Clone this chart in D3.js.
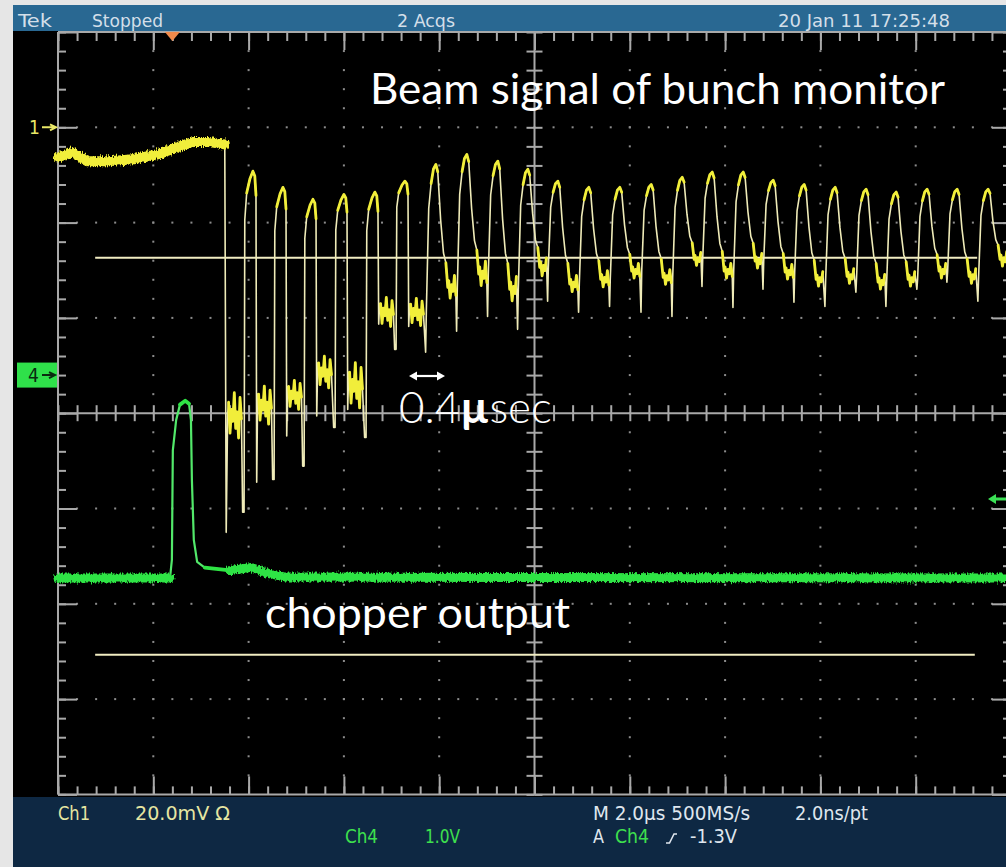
<!DOCTYPE html>
<html><head><meta charset="utf-8">
<script src="https://cdn.jsdelivr.net/npm/d3@7/dist/d3.min.js"></script>
<style>
html,body{margin:0;padding:0;background:#e6e6e6;overflow:hidden;}
svg{display:block}
</style></head>
<body>
<svg id="scope" width="1006" height="867"></svg>
<script>
// ---------------- data ----------------
const timebase = 2.0;            // µs / div
const hDivs = 10, vDivs = 8;
const ch1PerDiv = 20;            // mV / div
const ch1Offset = 3;             // ground marker, divs above centre
const ch4PerDiv = 1.0;           // V / div
const ch4Offset = 0.4;           // divs above centre
const triggerLevel = -1.3;       // V (Ch4)
const triggerTime = 2.39;        // µs

// Ch1 (beam signal) before the beam arrives, mV
const ch1PreT = [0, 0.29, 0.61, 1.09, 1.57, 2.08, 2.50, 2.83, 3.19, 3.50];
const ch1PreV = [-6.3, -5.2, -7.1, -7.1, -6.7, -5.7, -4.2, -3.1, -3.1, -3.6];
const ch1DropT = 3.53, ch1DropLow = -85.0, ch1FirstTrough = -60.2, ch1FirstSpread = 5.0;

// Ch1 bunch pulses
const pulseT      = [4.09,4.72,5.35,6.00,6.65,7.28,7.93,8.58,9.23,9.86,10.49,11.14,11.79,12.45,13.10,13.73,14.38,15.01,15.66,16.31,16.96,17.59,18.24,18.87,19.52];
const pulsePeak   = [-9.2,-12.6,-15.1,-14.1,-13.6,-11.3,-7.8,-5.7,-7.1,-8.8,-11.3,-12.6,-12.6,-12.0,-10.5,-9.4,-9.4,-11.1,-12.0,-12.6,-13.0,-13.6,-13.0,-13.0,-13.0];
const pulsePreLow = [-80.8,-73.9,-71.1,-63.0,-65.1,-46.6,-47.2,-42.8,-39.7,-42.4,-36.5,-38.8,-37.6,-38.8,-39.7,-33.4,-37.8,-34.0,-36.7,-37.6,-34.6,-37.6,-34.0,-32.5,-36.5];
const pulseFallLow= [-74.5,-64.8,-60.6,-59.2,-41.3,-41.8,null,null,null,null,null,null,null,null,null,null,null,null,null,null,null,null,null,null,null];
const pulseTrough = [-58.1,-56.0,-51.2,-53.9,-38.6,-38.6,-33.6,-30.8,-34.0,-29.4,-32.9,-31.9,-30.2,-31.5,-27.7,-30.2,-28.1,-30.4,-31.9,-31.3,-32.5,-31.9,-30.2,-31.3,-27.7];
const pulseSpread = [4.2,3.2,3.5,5.0,3.2,3.0,2.8,3.0,3.0,2.2,2.0,2.0,1.8,1.8,1.6,1.8,1.8,1.8,1.8,1.8,1.8,1.8,1.8,1.8,1.8];

// Ch4 (chopper output), V
const ch4T = [0, 2.35, 2.39, 2.41, 2.48, 2.56, 2.67, 2.75, 2.79, 2.81, 2.85, 2.92, 3.08, 3.61, 4.03, 4.34, 4.76, 20];
const ch4V = [-2.13,-2.13,-1.94,-0.79,-0.47,-0.31,-0.27,-0.30,-0.47,-1.10,-1.73,-1.96,-2.02,-2.05,-2.02,-2.07,-2.12,-2.13];

// horizontal reference levels (Ch1 scale, mV)
const refLevels = [-27.4, -110.7];
const refStart  = [0.78, 0.78];
const refEnd    = [19.29, 19.24];

const headerLabels = ["Tek", "Stopped", "2 Acqs", "20 Jan 11 17:25:48"];
const footerRow1 = ["Ch1", "20.0mV  Ω", "M 2.0µs 500MS/s", "2.0ns/pt"];
const footerRow2 = ["Ch4", "1.0V", "A", "Ch4", "-1.3V"];
const annotations = ["Beam signal of bunch monitor", "chopper output"];

// ---------------- layout ----------------
const X0 = 58, Y0 = 32, DIV = 95.3;
const W = DIV * hDivs, H = DIV * vDivs;
const x = d3.scaleLinear().domain([0, timebase * hDivs]).range([X0, X0 + W]);
const yDiv = d3.scaleLinear().domain([-vDivs/2, vDivs/2]).range([Y0 + H, Y0]);
const y1 = d3.scaleLinear().domain([(-vDivs/2 - ch1Offset) * ch1PerDiv, (vDivs/2 - ch1Offset) * ch1PerDiv]).range([Y0 + H, Y0]);
const y4 = d3.scaleLinear().domain([(-vDivs/2 - ch4Offset) * ch4PerDiv, (vDivs/2 - ch4Offset) * ch4PerDiv]).range([Y0 + H, Y0]);

const GR = '#a9a9a9', DOT = '#8c8c8c';
const YEL = '#f1ee3a', YEL_THIN = '#efebb8', GRN = '#2fe445', GRN_THIN = '#52e86a';
const NARROW = '"Liberation Sans Narrow","DejaVu Sans Condensed","Arial Narrow","Liberation Sans",sans-serif';
const HUMAN = 'Lato,"Open Sans","Noto Sans",sans-serif';

const svg = d3.select('#scope');
const defs = svg.append('defs');
const fz = defs.append('filter').attr('id', 'fuzz').attr('filterUnits', 'userSpaceOnUse')
  .attr('x', 0).attr('y', 0).attr('width', 1006).attr('height', 867);
fz.append('feTurbulence').attr('type', 'fractalNoise').attr('baseFrequency', '0.8 0.25')
  .attr('numOctaves', 2).attr('seed', 5).attr('result', 'n');
fz.append('feDisplacementMap').attr('in', 'SourceGraphic').attr('in2', 'n').attr('scale', 6)
  .attr('xChannelSelector', 'R').attr('yChannelSelector', 'G');

// frame
svg.append('rect').attr('x', 13).attr('y', 5).attr('width', 993).attr('height', 862).attr('fill', '#000');
svg.append('rect').attr('x', 13).attr('y', 5).attr('width', 993).attr('height', 26).attr('fill', '#296892');
svg.append('rect').attr('x', 13).attr('y', 797).attr('width', 993).attr('height', 70).attr('fill', '#0e2843');

// ---------------- graticule ----------------
const grat = svg.append('g');
const dots = [];
for (let k = 1; k < hDivs; k++) { if (k === hDivs/2) continue;
  for (let j = 1; j < vDivs * 5; j++) dots.push([k * timebase, j / 5 - vDivs/2]); }
for (let j = 1; j < vDivs; j++) { if (j === vDivs/2) continue;
  for (let k = 1; k < hDivs * 5; k++) dots.push([k * timebase / 5, j - vDivs/2]); }
grat.selectAll('rect.dot').data(dots).join('rect').attr('class', 'dot')
  .attr('x', d => x(d[0]) - 1).attr('y', d => yDiv(d[1]) - 1).attr('width', 2).attr('height', 2).attr('fill', DOT);

const minorT = d3.range(0, hDivs * 5 + 1).map(i => i * timebase / 5);
const majorT = d3.range(0, hDivs + 1).map(i => i * timebase);
const minorV = d3.range(0, vDivs * 5 + 1).map(i => i / 5 - vDivs/2);
const majorV = d3.range(0, vDivs + 1).map(i => i - vDivs/2);
function edge(axis, tr) {
  const g = grat.append('g').attr('transform', tr).call(axis);
  g.select('.domain').remove(); g.selectAll('text').remove();
  g.selectAll('.tick line').attr('stroke', GR).attr('stroke-width', 2);
}
edge(d3.axisBottom(x).tickValues(minorT).tickSize(9).tickFormat(''), `translate(0,${Y0})`);
edge(d3.axisBottom(x).tickValues(majorT).tickSize(18).tickFormat(''), `translate(0,${Y0})`);
edge(d3.axisTop(x).tickValues(minorT).tickSize(8).tickFormat(''), `translate(0,${Y0 + H})`);
edge(d3.axisTop(x).tickValues(majorT).tickSize(18).tickFormat(''), `translate(0,${Y0 + H})`);
edge(d3.axisRight(yDiv).tickValues(minorV).tickSize(8).tickFormat(''), `translate(${X0},0)`);
edge(d3.axisRight(yDiv).tickValues(majorV).tickSize(19).tickFormat(''), `translate(${X0},0)`);
edge(d3.axisLeft(yDiv).tickValues(minorV).tickSize(8).tickFormat(''), `translate(${X0 + W},0)`);
edge(d3.axisLeft(yDiv).tickValues(majorV).tickSize(19).tickFormat(''), `translate(${X0 + W},0)`);
// centre cross
const cx = x(timebase * hDivs / 2), cy = yDiv(0);
edge(d3.axisBottom(x).tickValues(minorT).tickSize(8).tickFormat(''), `translate(0,${cy})`);
edge(d3.axisTop(x).tickValues(minorT).tickSize(8).tickFormat(''), `translate(0,${cy})`);
edge(d3.axisRight(yDiv).tickValues(minorV).tickSize(8).tickFormat(''), `translate(${cx},0)`);
edge(d3.axisLeft(yDiv).tickValues(minorV).tickSize(8).tickFormat(''), `translate(${cx},0)`);
[[X0, Y0, X0, Y0 + H], [X0, Y0, X0 + W, Y0], [X0, Y0 + H, X0 + W, Y0 + H], [X0 + W, Y0, X0 + W, Y0 + H],
 [cx, Y0, cx, Y0 + H], [X0, cy, X0 + W, cy]].forEach(l =>
  grat.append('line').attr('x1', l[0]).attr('y1', l[1]).attr('x2', l[2]).attr('y2', l[3])
    .attr('stroke', GR).attr('stroke-width', 2));

// ---------------- reference lines ----------------
refLevels.forEach((v, i) => svg.append('line')
  .attr('x1', x(refStart[i])).attr('x2', x(refEnd[i])).attr('y1', y1(v)).attr('y2', y1(v))
  .attr('stroke', '#f1ecc2').attr('stroke-width', 2));

// ---------------- traces ----------------
const layer = svg.append('g');
function drawRuns(points, xs, ys, thin, thinW, bright, brightW, baseW) {
  const line = d3.line().x(d => xs(d.t)).y(d => ys(d.v));
  layer.append('path').attr('d', line(points)).attr('fill', 'none').attr('stroke', thin)
    .attr('stroke-width', thinW).attr('stroke-linejoin', 'round');
  const runs = []; let cur = null;
  for (let i = 1; i < points.length; i++) {
    const a = points[i - 1], b = points[i], kind = Math.min(a.k, b.k);
    if (kind >= 1) {
      if (cur && cur.kind === kind && cur.last === a) { cur.pts.push(b); cur.last = b; }
      else { cur = { kind, pts: [a, b], last: b }; runs.push(cur); }
    } else cur = null;
  }
  runs.forEach(r => layer.append('path').attr('d', line(r.pts)).attr('fill', 'none')
    .attr('stroke', bright).attr('stroke-width', r.kind === 2 ? baseW : brightW)
    .attr('stroke-linejoin', 'round').attr('stroke-linecap', 'round')
    .attr('filter', r.kind === 2 ? 'url(#fuzz)' : null));
}

// Ch1 points
const pts = [];
const noisePattern = [0.5, -0.8, 0.2, -0.3, 0.9, -0.6, 0.1, -1.0, 0.7, -0.2, 0.4, -0.7];
function addNoise(t0, t1, c, s) {
  let n = 0;
  for (let t = t0; t < t1; t += 0.03) pts.push({ t, v: c + s * noisePattern[n++ % noisePattern.length], k: 1 });
}
ch1PreT.forEach((t, i) => pts.push({ t, v: ch1PreV[i], k: 2 }));
pts.push({ t: ch1DropT, v: ch1DropLow, k: 0 });
pts.push({ t: ch1DropT + 0.03, v: ch1FirstTrough, k: 0 });
addNoise(ch1DropT + 0.05, pulseT[0] - 0.23, ch1FirstTrough, ch1FirstSpread);
let prevTrough = ch1FirstTrough;
pulseT.forEach((tp, i) => {
  const P = pulsePeak[i], L = pulsePreLow[i], F = pulseFallLow[i], T = pulseTrough[i], S = pulseSpread[i];
  const A = P - prevTrough, B = P - T;
  let shape, nStart;
  if (F !== null) {
    shape = [[-0.215, 0, L], [-0.185, 0, L], [-0.17, 0, P - 0.2 * A], [-0.13, 1, P - 0.09 * A],
             [-0.06, 1, P - 0.03 * A], [0, 1, P], [0.04, 1, P - 0.02 * A], [0.065, 1, P - 0.1 * A],
             [0.08, 0, F], [0.10, 0, T + 0.5 * S]];
    nStart = 0.12;
  } else {
    shape = [[-0.215, 0, L], [-0.2, 0, prevTrough], [-0.15, 0, P - 0.3 * A], [-0.1, 1, P - 0.13 * A],
             [-0.05, 1, P - 0.03 * A], [0, 1, P], [0.04, 1, P - 0.06 * B], [0.1, 0, P - 0.45 * B],
             [0.16, 0, P - 0.72 * B], [0.21, 1, P - 0.8 * B], [0.25, 1, T]];
    nStart = 0.27;
  }
  shape.forEach(s => pts.push({ t: tp + s[0], v: s[2], k: s[1] }));
  const tEnd = i < pulseT.length - 1 ? pulseT[i + 1] - 0.23 : timebase * hDivs;
  addNoise(tp + nStart, tEnd, T, S);
  prevTrough = T;
});
drawRuns(pts, x, y1, YEL_THIN, 1.6, YEL, 2.8, 10);

// Ch4 points (kind from slope)
const g4 = ch4T.map((t, i) => ({ t, v: ch4V[i] }));
g4.forEach((p, i) => {
  if (i === 0) { p.k = 2; return; }
  const q = g4[i - 1];
  const slope = Math.abs((y4(p.v) - y4(q.v)) / (x(p.t) - x(q.t)));
  p.k = slope < 0.6 ? 2 : slope < 4.5 ? 1 : 0;
});
for (let i = 1; i < g4.length; i++) if (g4[i].k === 2 && g4[i - 1].k === 0) g4[i - 1].k = 2;
drawRuns(g4, x, y4, GRN_THIN, 2.2, GRN, 3.8, 9);

// ---------------- markers ----------------
const tx = x(triggerTime);
svg.append('path').attr('d', `M${tx - 7},${Y0} L${tx + 8},${Y0} L${tx + 0.5},${Y0 + 9} Z`).attr('fill', '#f08a4b');
const g1y = y1(0);
svg.append('text').attr('x', 29).attr('y', g1y + 7).text('1').attr('fill', '#e9e867')
  .attr('font-family', NARROW).attr('font-size', 19);
svg.append('path').attr('d', `M42,${g1y} L54,${g1y} M50,${g1y - 3} L56,${g1y} L50,${g1y + 3}`)
  .attr('stroke', '#e9e867').attr('stroke-width', 2).attr('fill', 'none');
const g4y = y4(0);
svg.append('rect').attr('x', 17).attr('y', g4y - 12.5).attr('width', 40).attr('height', 25).attr('fill', '#2fe04a');
svg.append('text').attr('x', 28).attr('y', g4y + 7).text('4').attr('fill', '#0a2a10')
  .attr('font-family', NARROW).attr('font-size', 19);
svg.append('path').attr('d', `M42,${g4y} L53,${g4y} M49,${g4y - 3} L55,${g4y} L49,${g4y + 3}`)
  .attr('stroke', '#0a2a10').attr('stroke-width', 2).attr('fill', 'none');
const tly = y4(triggerLevel);
svg.append('path').attr('d', `M988,${tly} L996,${tly - 5} L996,${tly - 1.5} L1006,${tly - 1.5} L1006,${tly + 1.5} L996,${tly + 1.5} L996,${tly + 5} Z`)
  .attr('fill', '#3be055');

// ---------------- header / footer text ----------------
const hdrX = [18, 92, 397, 778], hdrL = [34, 71, 58, 172];
headerLabels.forEach((s, i) => svg.append('text').attr('x', hdrX[i]).attr('y', 27).text(s)
  .attr('fill', '#d3dfe9').attr('font-family', NARROW).attr('font-size', 18)
  .attr('textLength', hdrL[i]).attr('lengthAdjust', 'spacingAndGlyphs'));
const f1X = [58, 135, 593, 795], f1L = [32, 95, 157, 73], f1C = ['#e6e6a2', '#e6e6a2', '#dfe6ee', '#dfe6ee'];
footerRow1.forEach((s, i) => svg.append('text').attr('x', f1X[i]).attr('y', 820).text(s)
  .attr('fill', f1C[i]).attr('font-family', NARROW).attr('font-size', 19)
  .attr('textLength', f1L[i]).attr('lengthAdjust', 'spacingAndGlyphs'));
const f2X = [345, 425, 593, 615, 690], f2L = [33, 35, 11, 34, 47], f2C = ['#3ee04e', '#3ee04e', '#dfe6ee', '#3ee04e', '#dfe6ee'];
footerRow2.forEach((s, i) => svg.append('text').attr('x', f2X[i]).attr('y', 843).text(s)
  .attr('fill', f2C[i]).attr('font-family', NARROW).attr('font-size', 19)
  .attr('textLength', f2L[i]).attr('lengthAdjust', 'spacingAndGlyphs'));
svg.append('path').attr('d', 'M666,843 L669.5,843 L674,834 L677,834').attr('stroke', '#dfe6ee')
  .attr('stroke-width', 1.6).attr('fill', 'none');

// ---------------- annotations ----------------
svg.append('text').attr('x', 370).attr('y', 104).text(annotations[0]).attr('fill', '#fff')
  .attr('font-family', HUMAN).attr('font-size', 42).attr('textLength', 575).attr('lengthAdjust', 'spacingAndGlyphs');
svg.append('text').attr('x', 265).attr('y', 628).text(annotations[1]).attr('fill', '#fff')
  .attr('font-family', HUMAN).attr('font-size', 42).attr('textLength', 305).attr('lengthAdjust', 'spacingAndGlyphs');
const dt = svg.append('text').attr('x', 399).attr('y', 423).attr('fill', '#fff')
  .attr('font-family', HUMAN).attr('font-size', 44);
dt.append('tspan').text('0.4').attr('font-weight', 300);
dt.append('tspan').text('µ').attr('font-weight', 700);
dt.append('tspan').text('sec').attr('font-weight', 300);
svg.append('path').attr('d', 'M414,376 L440,376').attr('stroke', '#fff').attr('stroke-width', 2.2);
svg.append('path').attr('d', 'M409,376 L417,371.5 L417,380.5 Z M445,376 L437,371.5 L437,380.5 Z').attr('fill', '#fff');
</script>
</body></html>
